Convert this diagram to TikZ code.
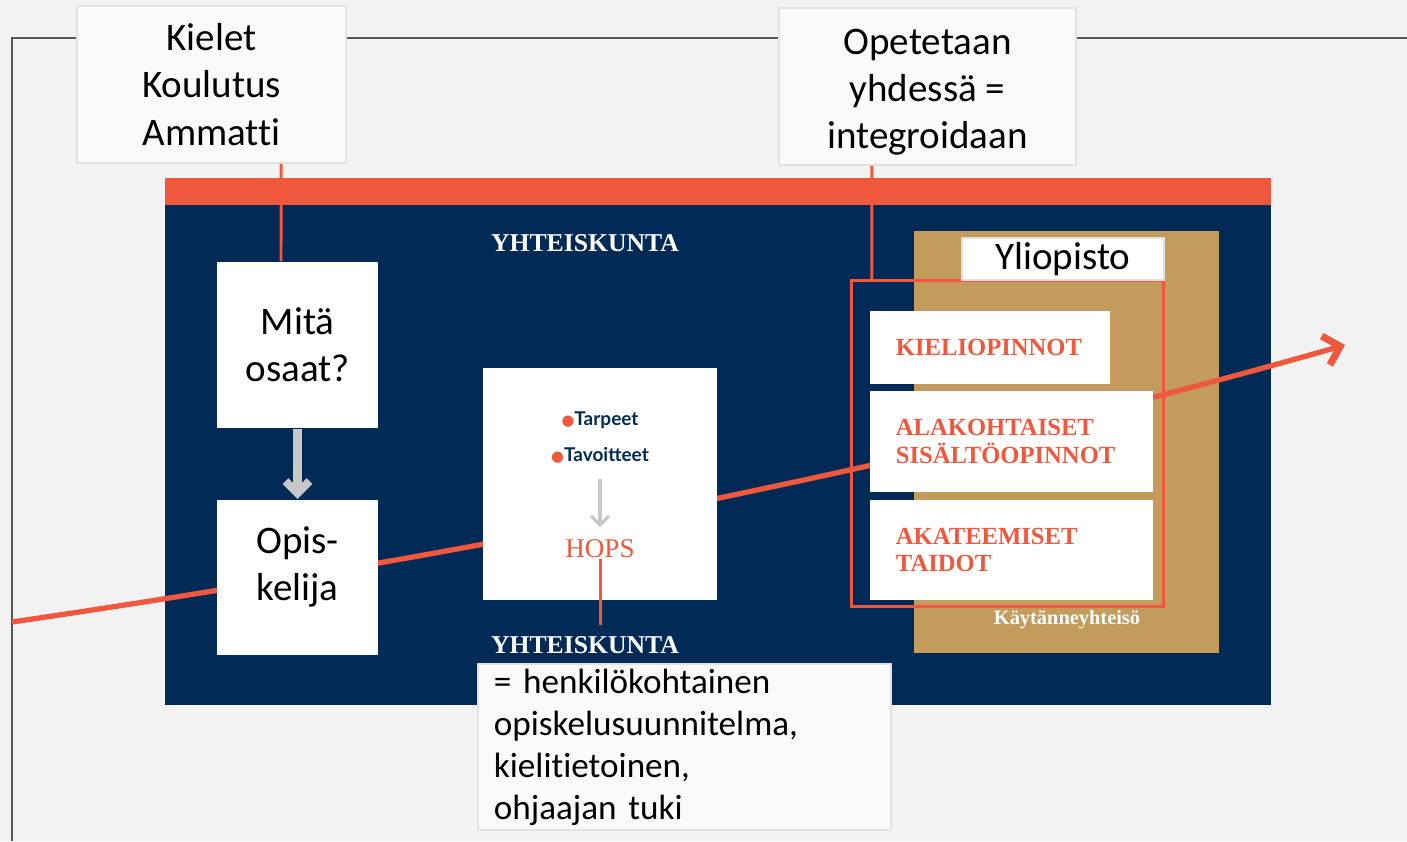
\documentclass[tikz,border=0pt]{standalone}
\usepackage{fontspec}
\setmainfont{Carlito}[Ligatures=NoCommon]
\newfontfamily\slab{Liberation Serif}
\newfontfamily\lato{Lato}
\newfontfamily\dejavu{DejaVu Sans}
\usetikzlibrary{arrows.meta,positioning}

\definecolor{slide}{HTML}{F2F2F2}
\definecolor{navy}{HTML}{022A56}
\definecolor{coral}{HTML}{EF583D}
\definecolor{tan}{HTML}{C29B5D}
\definecolor{paper}{HTML}{FAFAFA}
\definecolor{rim}{HTML}{E2E2E2}
\definecolor{ash}{HTML}{C8C8C8}
\definecolor{rule}{HTML}{555555}

\tikzset{
  callout/.style={fill=paper,draw=rim,line width=0.5pt,inner sep=0pt,align=center,
    font=\fontsize{11.1}{13.4}\selectfont},
  card/.style={fill=white,inner sep=0pt,align=center,font=\fontsize{11.1}{13.4}\selectfont},
  course/.style={fill=white,inner xsep=2.6mm,inner ysep=0pt,align=left,text=coral,
    font=\slab\bfseries\fontsize{7}{7.7}\selectfont},
  heading/.style={text=white,inner sep=0pt,font=\slab\bfseries\fontsize{7.3}{8}\selectfont},
  goal/.style={text=navy,inner sep=0pt,font=\lato\bfseries\fontsize{5.4}{6}\selectfont},
  link/.style={coral,line width=0.85pt},
}
\newcommand{\dotmark}{{\dejavu\color{coral}\fontsize{4.2}{5}\selectfont ●}}

\begin{document}
\begin{tikzpicture}[x=0.01cm,y=-0.01cm]
  \fill[slide] (0,0) rectangle (1407,841);
  \useasboundingbox (0,0) rectangle (1407,841);
  \draw[rule,line width=0.55pt] (12,841) -- (12,38) -- (1407,38);

  % society board
  \fill[navy] (165,178) rectangle (1271,705);
  \fill[coral] (165,178) rectangle (1271,205);
  \fill[tan] (914,231) rectangle (1219,653);
  \node[heading] (soc top) at (585,243) {YHTEISKUNTA};
  \node[heading] (soc bottom) at (585,645) {YHTEISKUNTA};
  \node[text=white,inner sep=0pt,font=\slab\bfseries\fontsize{5.8}{6}\selectfont]
    (practice) at (1067,620) {Käytänneyhteisö};

  % learning path
  \coordinate (start) at (12,622);
  \coordinate (bend a) at (509,549);
  \coordinate (bend b) at (953,457);
  \coordinate (finish) at (1345,345);
  \draw[coral,line width=1.5pt,-{Straight Barb[length=1.5mm,width=3mm,line width=2pt]}]
    (start) .. controls (bend a) and (bend b) .. (finish);

  % student side
  \node[card,minimum width=1.61cm,minimum height=1.66cm] (mita) at (297.5,345) {Mitä\\osaat?};
  \node[card,minimum width=1.61cm,minimum height=1.55cm,below=0.7cm of mita] (opis) {};
  \node[card,fill=none] (opis text) at ([yshift=1mm]opis.center) {Opis-\\kelija};
  \draw[ash,line width=2.3pt,-{Straight Barb[length=1.2mm,width=2.4mm]}] (mita) -- (opis);

  % hops
  \node[card,minimum width=2.34cm,minimum height=2.32cm] (plan) at (600,484) {};
  \node[goal] (needs) at (600,420) {\dotmark Tarpeet};
  \node[goal] (aims) at (600,455) {\dotmark Tavoitteet};
  \node[inner sep=0pt,text=coral,font=\slab\fontsize{7.7}{8}\selectfont] (hops) at (600,549) {HOPS};
  \draw[ash,line width=0.9pt,shorten <=1.5mm,shorten >=1.2mm,
    -{Straight Barb[length=0.9mm,width=1.8mm]}] (aims) -- (hops);

  % university
  \node[course,text width=1.88cm,minimum height=0.73cm] (kieli) at (990,347.5) {KIELIOPINNOT};
  \node[course,text width=2.31cm,minimum height=1cm,below right=0.06cm and 0cm of kieli.south west]
    (ala) {ALAKOHTAISET\\SISÄLTÖOPINNOT};
  \node[course,text width=2.31cm,minimum height=1cm,below=0.07cm of ala] (aka) {AKATEEMISET\\TAIDOT};
  \node[draw=coral,line width=0.85pt,inner sep=0pt,minimum width=3.11cm,minimum height=3.25cm]
    (uni frame) at (1007.5,443.5) {};
  \node[card,draw=rim,line width=0.4pt,minimum width=2.02cm,minimum height=0.42cm] (uni) at (1063,259) {Yliopisto};

  % callouts
  \node[callout,minimum width=2.69cm,minimum height=1.57cm] (langs) at (211.5,84.5) {Kielet\\Koulutus\\Ammatti};
  \node[callout,minimum width=2.97cm,minimum height=1.57cm] (together) at (927.5,86.5) {};
  \node[card,fill=none] (together text) at ([yshift=-0.6mm]together.center) {Opetetaan\\yhdessä =\\integroidaan};
  \node[callout,align=left,text width=3.81cm,inner xsep=0.16cm,minimum height=1.66cm,
    font=\fontsize{10}{11.95}\selectfont] (note) at (684.5,747)
    {= henkilökohtainen\\opiskelusuunnitelma,\\kielitietoinen,\\ohjaajan tuki};
  \coordinate (hops end) at (600,625);

  \draw[link] ([xshift=6.95mm]langs.south) -- ([xshift=-1.65mm]mita.north);
  \draw[link] ([xshift=-5.55mm]together.south) -- ([xshift=-13.55mm]uni frame.north);
  \draw[link] (hops) -- (hops end);
\end{tikzpicture}
\end{document}
